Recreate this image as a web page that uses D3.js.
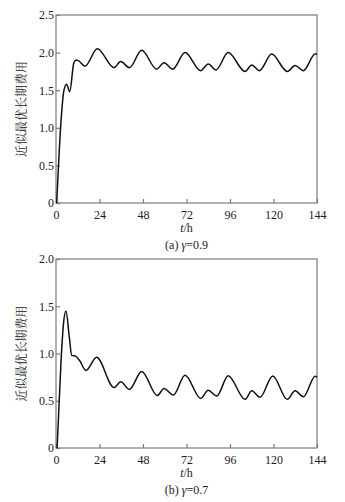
<!DOCTYPE html>
<html><head><meta charset="utf-8">
<script src="https://cdn.jsdelivr.net/npm/d3@7"></script>
<style>
html,body{margin:0;padding:0;background:#fff;}
svg{display:block;}
text{font-family:"Liberation Serif","Times New Roman","DejaVu Serif",serif !important;fill:#222;}
text.cjk{font-family:"Noto Serif CJK SC","Noto Sans CJK SC",sans-serif !important;}
</style></head>
<body>
<svg id="c" width="345" height="502"></svg>
<script>
// ---- data ----
const xTicks = [0, 24, 48, 72, 96, 120, 144];
const yTicksA = [0, 0.5, 1.0, 1.5, 2.0, 2.5];
const yTicksB = [0, 0.5, 1.0, 1.5, 2.0];
const yLabel = "近似最优长期费用";
const xLabel = "t/h";
const captionA = "(a) γ=0.9";
const captionB = "(b) γ=0.7";

const tA = [0.4, 2.8, 4.4, 5.8, 7.6, 9.8, 11.0, 12.5, 16.0, 22.8, 32.0, 35.7, 40.5, 47.3, 55.5, 59.6, 64.4, 71.2, 79.8, 84.0, 88.3, 95.0, 104.3, 108.0, 112.2, 119.0, 127.6, 131.9, 136.5, 143.0, 144.0];
const vA = [0.0, 1.10, 1.50, 1.58, 1.48, 1.86, 1.90, 1.89, 1.82, 2.05, 1.80, 1.88, 1.80, 2.03, 1.78, 1.866, 1.78, 2.00, 1.76, 1.85, 1.77, 2.00, 1.75, 1.835, 1.76, 1.98, 1.75, 1.83, 1.76, 1.98, 1.98];

const tB = [0.6, 2.8, 4.2, 5.5, 7.2, 8.7, 11.0, 13.2, 16.5, 22.4, 32.0, 35.7, 40.5, 47.3, 55.9, 59.6, 64.7, 71.2, 79.8, 84.0, 88.7, 95.0, 104.3, 108.0, 112.5, 119.6, 127.6, 131.9, 136.5, 143.0, 144.0];
const vB = [0.0, 0.93, 1.33, 1.45, 1.20, 0.98, 0.97, 0.92, 0.82, 0.96, 0.64, 0.70, 0.62, 0.81, 0.555, 0.63, 0.56, 0.77, 0.525, 0.61, 0.55, 0.765, 0.515, 0.606, 0.536, 0.762, 0.515, 0.606, 0.543, 0.76, 0.75];

const svg = d3.select("#c");

function panel(cfg) {
  const {top, bottom, left, right, yMax, yTicks, t, v, caption} = cfg;
  const x = d3.scaleLinear().domain([0, 144]).range([left, right]);
  const y = d3.scaleLinear().domain([0, yMax]).range([bottom, top]);
  const g = svg.append("g");
  const frame = "#7a7a7a";

  g.append("rect").attr("x", left).attr("y", top)
    .attr("width", right - left).attr("height", bottom - top)
    .attr("fill", "none").attr("stroke", frame).attr("stroke-width", 1.2);

  const xa = g.append("g").attr("transform", `translate(0,${bottom})`)
    .call(d3.axisBottom(x).tickValues(xTicks).tickSizeInner(-4).tickSizeOuter(0).tickPadding(7).tickFormat(d3.format("d")));
  xa.attr("font-family", null);
  xa.select(".domain").remove();
  xa.selectAll("line").attr("stroke", frame).attr("stroke-width", 1.2);
  xa.selectAll("text").attr("font-size", "12px").attr("fill", "#222");

  const ya = g.append("g").attr("transform", `translate(${left},0)`)
    .call(d3.axisLeft(y).tickValues(yTicks).tickSizeInner(-4).tickSizeOuter(0).tickPadding(2)
      .tickFormat(d => d === 0 ? "0" : d3.format(".1f")(d)));
  ya.attr("font-family", null);
  ya.select(".domain").remove();
  ya.selectAll("line").attr("stroke", frame).attr("stroke-width", 1.2);
  ya.selectAll("text").attr("font-size", "12px").attr("fill", "#222");

  const data = t.map((d, i) => [d, v[i]]);
  g.append("path").datum(data)
    .attr("fill", "none").attr("stroke", "#111").attr("stroke-width", 1.5)
    .attr("stroke-linejoin", "round")
    .attr("d", d3.line().x(d => x(d[0])).y(d => y(d[1])).curve(d3.curveMonotoneX));

  const cy = (top + bottom) / 2;
  g.append("text").attr("class", "cjk").attr("transform", `translate(26,${cy}) rotate(-90)`)
    .attr("text-anchor", "middle")
    .attr("font-size", "12px").text(yLabel);

  const xl = g.append("text").attr("x", (left + right) / 2).attr("y", bottom + 29)
    .attr("text-anchor", "middle").attr("font-size", "12px");
  xl.append("tspan").attr("font-style", "italic").text(xLabel.split("/")[0]);
  xl.append("tspan").text("/" + xLabel.split("/")[1]);

  const parts = caption.split("γ");
  const cp = g.append("text").attr("x", (left + right) / 2).attr("y", bottom + 46)
    .attr("text-anchor", "middle").attr("font-size", "12px");
  cp.append("tspan").text(parts[0]);
  cp.append("tspan").attr("font-style", "italic").text("γ");
  cp.append("tspan").text(parts[1]);
}

panel({top: 15, bottom: 203, left: 56, right: 317, yMax: 2.5, yTicks: yTicksA, t: tA, v: vA, caption: captionA});
panel({top: 259, bottom: 448, left: 56, right: 317, yMax: 2.0, yTicks: yTicksB, t: tB, v: vB, caption: captionB});
</script>
</body></html>
